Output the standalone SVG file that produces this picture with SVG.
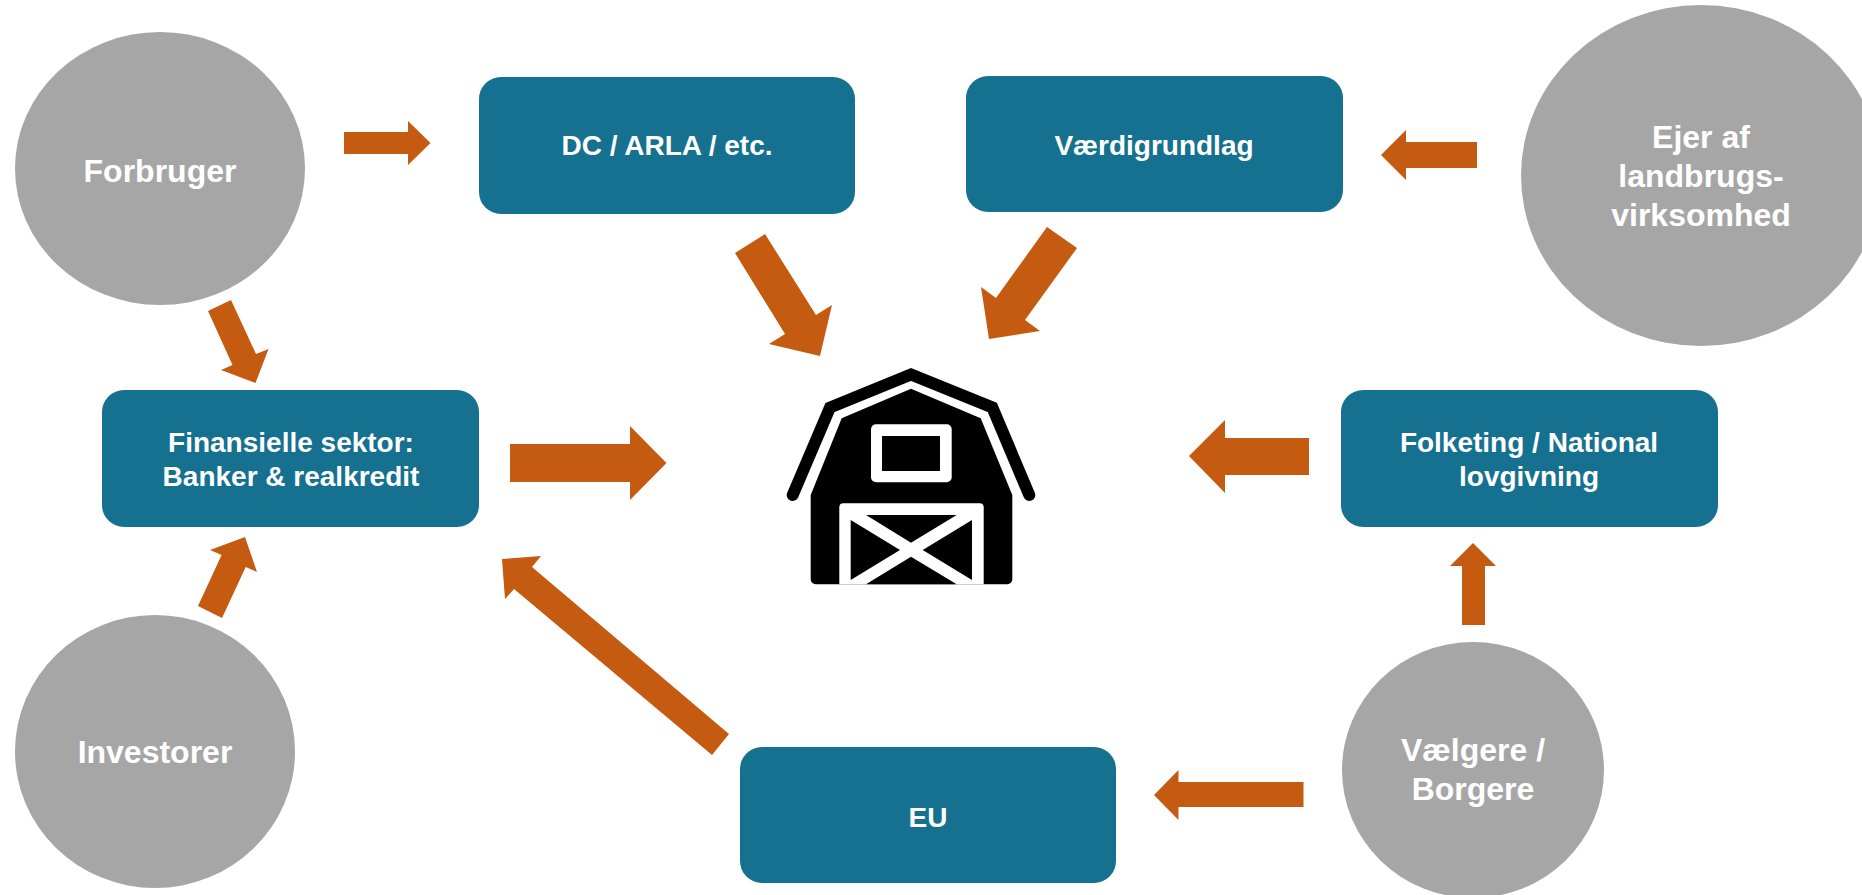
<svg xmlns="http://www.w3.org/2000/svg" width="1862" height="895" viewBox="0 0 1862 895">
<style>
.box{fill:#15718F}
.ell{fill:#A6A6A6}
.arr{fill:#C55A11}
text{font-family:"Liberation Sans",Arial,sans-serif;font-weight:700;fill:#fff;text-anchor:middle}
.t{font-size:28px}
.c{font-size:32px}
</style>
<rect width="1862" height="895" fill="#fff"/>
<g id="connectors">
<polygon class="arr" points="344,132 408,132 408,121 430.5,143 408,165 408,154 344,154"/>
<polygon class="arr" points="765,234 735,253 785,334 769,344 820,356 832,305 816,315"/>
<polygon class="arr" points="1047,227 1077,248 1025,320 1040,331 989,339 981,287 996,298"/>
<polygon class="arr" points="1477,142 1406,142 1406,130 1381,155 1406,180 1406,168 1477,168"/>
<polygon class="arr" points="231,300 208,311 232.500,365 221,370 255.500,383 268.500,349 256,354"/>
<polygon class="arr" points="510,444 630,444 630,426 666.500,463 630,500 630,482 510,482"/>
<polygon class="arr" points="1309,438 1225,438 1225,420 1189,456 1225,493 1225,475 1309,475"/>
<polygon class="arr" points="198,606 222,618 245.700,567 257,572 245,537 210,550 221.600,555"/>
<polygon class="arr" points="729,734 712,755 514,589 505,599 502,559 541,556 532,567"/>
<polygon class="arr" points="1462,625 1462,566 1450,566 1473,543 1496,566 1485,566 1485,625"/>
<polygon class="arr" points="1303.500,782 1178.500,782 1178.500,770 1154,795 1178.500,820 1178.500,807 1303.500,807"/>
</g>
<g id="node-forbruger"><ellipse class="ell" cx="160" cy="168.500" rx="145" ry="136.500"/><text class="c" x="160" y="182">Forbruger</text></g>
<g id="node-dc"><rect class="box" x="479" y="77" width="376" height="137" rx="22"/><text class="t" x="667" y="155">DC / ARLA / etc.</text></g>
<g id="node-vaerdi"><rect class="box" x="966" y="76" width="377" height="136" rx="22"/><text class="t" x="1154" y="155">Værdigrundlag</text></g>
<g id="node-ejer"><ellipse class="ell" cx="1701" cy="175.500" rx="180" ry="170.500"/><text class="c" x="1701" y="148">Ejer af</text><text class="c" x="1701" y="187">landbrugs-</text><text class="c" x="1701" y="226">virksomhed</text></g>
<g id="node-finans"><rect class="box" x="102" y="390" width="377" height="137" rx="22"/><text class="t" x="291" y="452">Finansielle sektor:</text><text class="t" x="291" y="486">Banker &amp; realkredit</text></g>
<g id="node-folketing"><rect class="box" x="1341" y="390" width="377" height="137" rx="22"/><text class="t" x="1529" y="452">Folketing / National</text><text class="t" x="1529" y="486">lovgivning</text></g>
<g id="node-investorer"><ellipse class="ell" cx="155" cy="751.500" rx="140" ry="136.500"/><text class="c" x="155" y="763">Investorer</text></g>
<g id="node-eu"><rect class="box" x="740" y="747" width="376" height="136" rx="22"/><text class="t" x="928" y="827">EU</text></g>
<g id="node-vaelgere"><ellipse class="ell" cx="1473" cy="770" rx="131" ry="128"/><text class="c" x="1473" y="761">Vælgere /</text><text class="c" x="1473" y="800">Borgere</text></g>
<g id="node-barn">
<path d="M792.700 495L830 407.500 911 374.500 992.300 407.500 1029.300 495" fill="none" stroke="#000" stroke-width="12" stroke-linecap="round" stroke-linejoin="miter"/>
<path d="M911 388.700L980.700 418.300 1012.300 495V579.300a5 5 0 0 1-5 5H815.700a5 5 0 0 1-5-5V495L841.700 418.300Z" fill="#000"/>
<rect x="871" y="424.300" width="80.700" height="58" rx="5" fill="#fff"/>
<rect x="882" y="436" width="58" height="35" fill="#000"/>
<path d="M839.300 584.300V507.300a4 4 0 0 1 4-4H979.700a4 4 0 0 1 4 4V584.300Z" fill="#fff"/>
<polygon points="866,515 956.700,515 911,542.700" fill="#000"/>
<polygon points="850.700,520 900,550 850.700,580" fill="#000"/>
<polygon points="972,520 922.700,550 972,580" fill="#000"/>
<polygon points="866,584.300 911,556.700 956.700,584.300" fill="#000"/>
</g>
</svg>
